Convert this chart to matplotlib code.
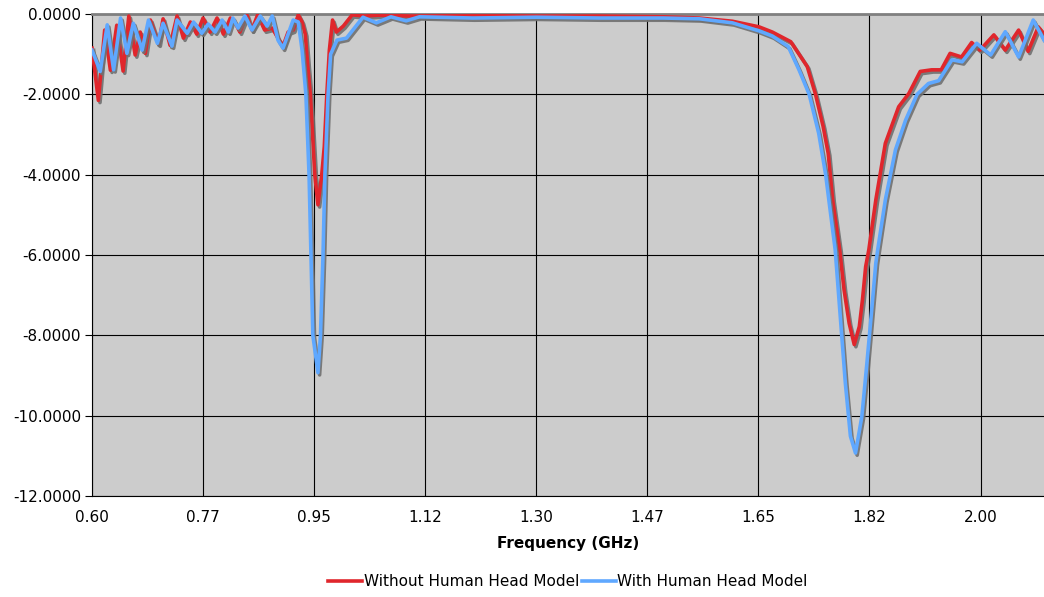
import matplotlib
matplotlib.use('Agg')
import matplotlib.pyplot as plt
import matplotlib.patheffects as pe
from matplotlib.lines import Line2D

# ---- data ----
freq_without = [0.600, 0.610, 0.620, 0.629, 0.639, 0.649, 0.658, 0.668, 0.676, 0.684,
                0.692, 0.705, 0.712, 0.723, 0.734, 0.744, 0.755, 0.765, 0.775, 0.786,
                0.797, 0.807, 0.818, 0.825, 0.833, 0.844, 0.852, 0.861, 0.872, 0.884,
                0.893, 0.901, 0.909, 0.917, 0.925, 0.931, 0.936, 0.940, 0.944, 0.951,
                0.956, 0.962, 0.966, 0.970, 0.974, 0.979, 0.985, 0.996, 1.010, 1.030,
                1.050, 1.100, 1.200, 1.300, 1.400, 1.500, 1.557, 1.609, 1.651, 1.672,
                1.701, 1.714, 1.727, 1.740, 1.752, 1.760, 1.767, 1.778, 1.785, 1.793,
                1.801, 1.809, 1.814, 1.819, 1.824, 1.835, 1.850, 1.871, 1.887, 1.905,
                1.923, 1.938, 1.952, 1.970, 1.986, 1.999, 2.021, 2.039, 2.060, 2.075,
                2.091, 2.100]
s11_without = [-0.85, -2.15, -0.40, -1.40, -0.28, -1.42, -0.05, -1.02, -0.45, -0.98,
               -0.15, -0.75, -0.12, -0.78, -0.05, -0.60, -0.20, -0.50, -0.10, -0.45,
               -0.10, -0.50, -0.10, -0.20, -0.45, -0.02, -0.40, -0.02, -0.40, -0.35,
               -0.60, -0.80, -0.45, -0.40, -0.02, -0.20, -0.50, -1.30, -2.00, -4.00,
               -4.75, -4.00, -3.30, -2.00, -0.90, -0.15, -0.45, -0.30, -0.02, -0.05,
               -0.03, -0.05, -0.04, -0.05, -0.05, -0.07, -0.10, -0.18, -0.32, -0.45,
               -0.69, -1.00, -1.31, -2.00, -2.80, -3.47, -4.63, -5.87, -6.87, -7.70,
               -8.23, -7.78, -7.11, -6.29, -5.87, -4.63, -3.22, -2.31, -1.98, -1.43,
               -1.39, -1.39, -0.98, -1.07, -0.71, -0.90, -0.52, -0.90, -0.40, -0.93,
               -0.32, -0.50]

freq_with = [0.600, 0.613, 0.624, 0.634, 0.645, 0.655, 0.665, 0.679, 0.689, 0.703,
             0.712, 0.726, 0.734, 0.750, 0.760, 0.773, 0.783, 0.794, 0.805, 0.815,
             0.822, 0.830, 0.841, 0.852, 0.865, 0.876, 0.884, 0.893, 0.901, 0.909,
             0.917, 0.925, 0.931, 0.937, 0.942, 0.945, 0.948, 0.956, 0.960, 0.964,
             0.967, 0.972, 0.976, 0.986, 1.001, 1.027, 1.048, 1.071, 1.095, 1.116,
             1.200, 1.300, 1.400, 1.500, 1.557, 1.609, 1.651, 1.672, 1.697, 1.714,
             1.730, 1.745, 1.756, 1.761, 1.771, 1.779, 1.787, 1.795, 1.803, 1.813,
             1.821, 1.829, 1.835, 1.838, 1.850, 1.866, 1.882, 1.900, 1.918, 1.934,
             1.955, 1.971, 1.994, 2.016, 2.039, 2.060, 2.083, 2.100]
s11_with = [-0.90, -1.43, -0.27, -1.39, -0.10, -0.98, -0.23, -0.90, -0.15, -0.73,
            -0.23, -0.80, -0.15, -0.48, -0.20, -0.48, -0.25, -0.45, -0.15, -0.45,
            -0.10, -0.35, -0.05, -0.40, -0.05, -0.30, -0.05, -0.65, -0.85, -0.50,
            -0.15, -0.20, -0.90, -2.00, -4.00, -6.00, -8.00, -8.93, -8.00, -6.00,
            -4.00, -2.00, -1.00, -0.65, -0.60, -0.08, -0.22, -0.07, -0.17, -0.07,
            -0.10, -0.08, -0.10, -0.10, -0.12, -0.22, -0.42, -0.55, -0.81, -1.39,
            -2.00, -2.97, -4.00, -4.63, -5.87, -7.53, -9.19, -10.51, -10.93, -10.02,
            -8.69, -7.28, -6.20, -5.87, -4.63, -3.38, -2.64, -2.00, -1.73, -1.66,
            -1.14, -1.19, -0.73, -1.02, -0.44, -1.07, -0.15, -0.65]

x_ticks = [0.600, 0.775, 0.950, 1.125, 1.300, 1.475, 1.650, 1.825, 2.000]
x_labels = ['0.60', '0.77', '0.95', '1.12', '1.30', '1.47', '1.65', '1.82', '2.00']
y_ticks = [0, -2, -4, -6, -8, -10, -12]
series_names = ['Without Human Head Model', 'With Human Head Model']
red = '#e0262c'
blue = '#5fa8ff'

fig = plt.figure(figsize=(10.44, 5.97), dpi=100)
ax = fig.add_axes([92 / 1044, 101 / 597, 1 - 92 / 1044, 482 / 597])
ax.set_facecolor('#cccccc')

shadow = [pe.SimpleLineShadow(offset=(1.2, -1.6), shadow_color='#707070', alpha=0.9), pe.Normal()]
ax.plot(freq_without, s11_without, color=red, lw=2.6,
        path_effects=shadow, solid_joinstyle='round', zorder=3)
ax.plot(freq_with, s11_with, color=blue, lw=2.6,
        path_effects=shadow, solid_joinstyle='round', zorder=4)

ax.set_xlim(0.6, 2.1)
ax.set_ylim(-12, 0)
ax.set_xticks(x_ticks)
ax.set_xticklabels(x_labels)
ax.set_yticks(y_ticks)
ax.set_yticklabels(['%.4f' % v for v in y_ticks])
ax.grid(True, color='black', lw=0.8)
ax.set_axisbelow(True)
ax.tick_params(axis='x', length=0, pad=10, labelsize=11)
ax.tick_params(axis='y', length=5, direction='out', labelsize=11, pad=3)

ax.spines['right'].set_visible(False)
ax.spines['top'].set_color('#808080')
ax.spines['top'].set_linewidth(2)
ax.spines['left'].set_color('black')
ax.spines['bottom'].set_color('black')

ax.set_xlabel('Frequency (GHz)', fontweight='bold', fontsize=11, labelpad=8)

# legend centred under the plot area, like the original
handles = [Line2D([], [], color=red, lw=2.6), Line2D([], [], color=blue, lw=2.6)]
fig.legend(handles, series_names, loc='lower center', bbox_to_anchor=(568 / 1044, -0.01), ncol=2,
           frameon=False, fontsize=11, handlelength=2.2, columnspacing=0.2, handletextpad=0.1)

fig.savefig('out.png', dpi=100)
